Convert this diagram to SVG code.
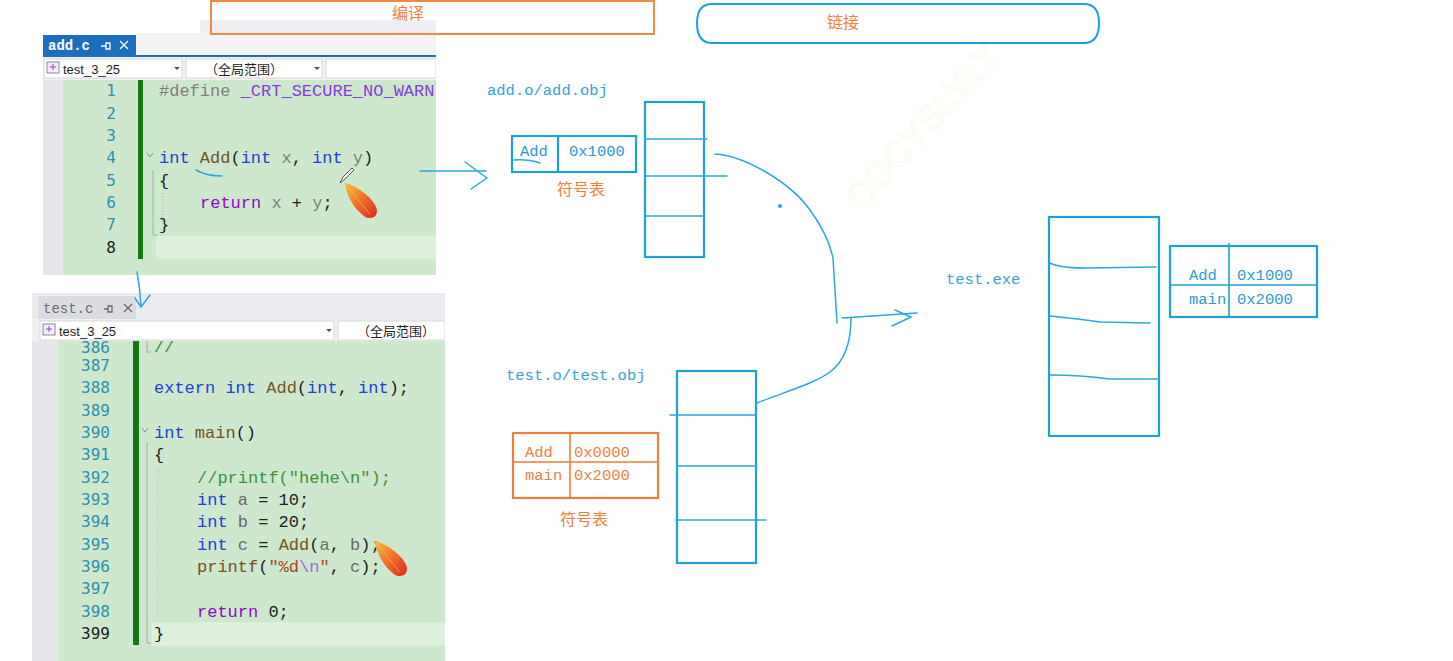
<svg xmlns="http://www.w3.org/2000/svg" width="1453" height="661" viewBox="0 0 1453 661">
<style>
.code{font-family:"Liberation Mono","DejaVu Sans Mono",monospace;font-size:17px;fill:#1e1e1e}
.ln{font-family:"DejaVu Sans Mono","Liberation Mono",monospace;font-size:16px;fill:#2b91af;text-anchor:end}
.kw{fill:#2040d8}.fn{fill:#74531f}.pa{fill:#808080}.rt{fill:#8f08c4}.mc{fill:#8a3bd8}.cm{fill:#3a943a}.st{fill:#a3461f}.esc{fill:#9a6ae0}.lv{fill:#6a6a6a}
.ui{font-family:"Liberation Sans","DejaVu Sans",sans-serif;font-size:13px;fill:#1e1e1e}
.cjk{font-family:"Noto Sans CJK SC",sans-serif}
.lbl{font-family:"Liberation Mono","DejaVu Sans Mono",monospace;font-size:15.5px;fill:#3aa0d8}
.tb{font-family:"Liberation Mono","DejaVu Sans Mono",monospace;font-size:15.5px}
.blue{fill:none;stroke:#1ea0dc;stroke-width:2.2}
.thin{fill:none;stroke:#2aa6e0;stroke-width:1.5;stroke-linecap:round;stroke-linejoin:round}
.org{fill:none;stroke:#f07d3a;stroke-width:2.2}
.cn{font-family:"Noto Sans CJK SC",sans-serif;font-size:16px;fill:#f08040}
</style>
<defs>
<clipPath id="c1"><rect x="43" y="20" width="393" height="255"/></clipPath>
<clipPath id="c2"><rect x="32" y="293" width="413" height="368"/></clipPath>
<clipPath id="c2code"><rect x="32" y="341" width="413" height="320"/></clipPath>
<linearGradient id="fg" x1="0" y1="0" x2="1" y2="1">
<stop offset="0" stop-color="#f7c23a"/><stop offset="0.45" stop-color="#f2762a"/><stop offset="1" stop-color="#e0281e"/>
</linearGradient>
<symbol id="feather" viewBox="0 0 42 46">
<path d="M2,2 C14,4 34,18 39,31 C42,41 33,46 25,41 C14,33 4,18 2,2 Z" fill="url(#fg)"/>
<path d="M2,2 L31,38" stroke="#f6b850" stroke-width="0.8" fill="none"/>
</symbol>
</defs>
<rect width="1453" height="661" fill="#ffffff"/>

<!-- watermark -->
<text x="0" y="0" transform="translate(862,212) rotate(-48)" font-family="Liberation Sans,sans-serif" font-size="36" fill="none" stroke="#f9fbea" stroke-width="1">COCYSLYLY</text>

<!-- add.c editor panel -->
<g id="panel-add" clip-path="url(#c1)">
<rect x="200" y="20" width="236" height="36" fill="#efeff3"/>
<rect x="136" y="33" width="300" height="23" fill="#f3f3f6"/>
<rect x="43" y="35" width="93" height="21" fill="#1c6fbf"/>
<text x="48" y="50" font-family="Liberation Mono,monospace" font-size="14" font-weight="bold" fill="#ffffff">add.c</text>
<g stroke="#ffffff" stroke-width="1.3" fill="none"><path d="M101,46 h5 M106,43 v6 h4 v-6 z"/><path d="M120,41 l8,8 M128,41 l-8,8"/></g>
<rect x="43" y="55" width="393" height="2" fill="#1c6fbf"/>
<rect x="43" y="57" width="393" height="23" fill="#f0f0f0"/>
<rect x="44" y="59" width="138" height="19" fill="#ffffff" stroke="#d6d6d6"/>
<rect x="186" y="59" width="136" height="19" fill="#ffffff" stroke="#d6d6d6"/>
<rect x="326" y="59" width="110" height="19" fill="#ffffff" stroke="#d6d6d6"/>
<rect x="47" y="62" width="12" height="11" fill="#f4eef8" stroke="#6a6a8a" stroke-width="0.8"/>
<path d="M50,67 h6 M53,64 v6" stroke="#a03cc0" stroke-width="1"/>
<text x="63" y="74" class="ui">test_3_25</text>
<path d="M174,67 l3,3 l3,-3 z" fill="#555"/>
<text x="205" y="74" class="ui cjk">（全局范围）</text>
<path d="M314,67 l3,3 l3,-3 z" fill="#555"/>
<rect x="43" y="80" width="20" height="195" fill="#e6e6ea"/>
<rect x="63" y="80" width="373" height="195" fill="#cde8cd"/>
<rect x="157" y="237" width="279" height="21" fill="#dcefdc" stroke="#e6f3e6"/>
<rect x="138" y="80" width="5" height="179" fill="#137a13"/>
<path d="M147,153 l3,4 l3,-4" stroke="#8a8a8a" fill="none" stroke-width="1"/>
<path d="M153,170 V235 h4" stroke="#a8a8a8" fill="none" stroke-width="1"/>
<path d="M163,193 V215" stroke="#b0b0b0" stroke-dasharray="1 2" fill="none"/>
<text class="ln" x="116" y="96">1</text>
<text class="ln" x="116" y="119">2</text>
<text class="ln" x="116" y="141">3</text>
<text class="ln" x="116" y="163">4</text>
<text class="ln" x="116" y="186">5</text>
<text class="ln" x="116" y="208">6</text>
<text class="ln" x="116" y="230">7</text>
<text class="ln" x="116" y="253" style="fill:#1e1e1e">8</text>
<text class="code" x="159" y="96" xml:space="preserve"><tspan class="pa">#define</tspan> <tspan class="mc">_CRT_SECURE_NO_WARNINGS</tspan></text>
<text class="code" x="159" y="163" xml:space="preserve"><tspan class="kw">int</tspan> <tspan class="fn">Add</tspan>(<tspan class="kw">int</tspan> <tspan class="pa">x</tspan>, <tspan class="kw">int</tspan> <tspan class="pa">y</tspan>)</text>
<text class="code" x="159" y="186">{</text>
<text class="code" x="200" y="208" xml:space="preserve"><tspan class="rt">return</tspan> <tspan class="pa">x</tspan> + <tspan class="pa">y</tspan>;</text>
<text class="code" x="159" y="230">}</text>
<g transform="translate(340,168)"><path d="M0,15 L3,9 L12,0 L14,2 L5,11 Z" fill="#ffffff" stroke="#555" stroke-width="1"/></g>
<use href="#feather" x="343" y="180" width="36" height="42"/>
</g>

<!-- test.c editor panel -->
<g id="panel-test" clip-path="url(#c2)">
<rect x="32" y="293" width="413" height="26" fill="#ebebef"/>
<rect x="38" y="296" width="98" height="23" fill="#dcdce3"/>
<text x="43" y="313" font-family="Liberation Mono,monospace" font-size="14" fill="#6a6a70">test.c</text>
<g stroke="#6a6a70" stroke-width="1.3" fill="none"><path d="M104,309 h4 M108,306 v6 h4 v-6 z"/><path d="M124,304 l8,8 M132,304 l-8,8"/></g>
<rect x="32" y="319" width="413" height="22" fill="#f0f0f0"/>
<rect x="40" y="321" width="294" height="19" fill="#ffffff" stroke="#d6d6d6"/>
<rect x="338" y="321" width="107" height="19" fill="#ffffff" stroke="#d6d6d6"/>
<rect x="43" y="324" width="12" height="11" fill="#f4eef8" stroke="#6a6a8a" stroke-width="0.8"/>
<path d="M46,329 h6 M49,326 v6" stroke="#a03cc0" stroke-width="1"/>
<text x="59" y="336" class="ui">test_3_25</text>
<path d="M326,329 l3,3 l3,-3 z" fill="#555"/>
<text x="357" y="336" class="ui cjk">（全局范围）</text>
<g clip-path="url(#c2code)">
<rect x="32" y="341" width="26" height="320" fill="#e6e6ea"/>
<rect x="58" y="341" width="387" height="320" fill="#cde8cd"/>
<rect x="152" y="623" width="293" height="22" fill="#dcefdc" stroke="#e6f3e6"/>
<rect x="133" y="341" width="6" height="304" fill="#137a13"/>
<path d="M147,336 V352 h4" stroke="#a8a8a8" fill="none" stroke-width="1"/>
<path d="M142,428 l3,4 l3,-4" stroke="#8a8a8a" fill="none" stroke-width="1"/>
<path d="M147,442 V643 h4" stroke="#a8a8a8" fill="none" stroke-width="1"/>
<path d="M158,468 V618" stroke="#b8b8b8" stroke-dasharray="1 2" fill="none"/>
<text class="ln" x="110" y="353">386</text>
<text class="ln" x="110" y="371">387</text>
<text class="ln" x="110" y="393">388</text>
<text class="ln" x="110" y="416">389</text>
<text class="ln" x="110" y="438">390</text>
<text class="ln" x="110" y="460">391</text>
<text class="ln" x="110" y="483">392</text>
<text class="ln" x="110" y="505">393</text>
<text class="ln" x="110" y="527">394</text>
<text class="ln" x="110" y="550">395</text>
<text class="ln" x="110" y="572">396</text>
<text class="ln" x="110" y="594">397</text>
<text class="ln" x="110" y="617">398</text>
<text class="ln" x="110" y="639" style="fill:#1e1e1e">399</text>
<text class="code" x="154" y="352"><tspan class="cm">//</tspan></text>
<text class="code" x="154" y="393" xml:space="preserve"><tspan class="kw">extern</tspan> <tspan class="kw">int</tspan> <tspan class="fn">Add</tspan>(<tspan class="kw">int</tspan>, <tspan class="kw">int</tspan>);</text>
<text class="code" x="154" y="438" xml:space="preserve"><tspan class="kw">int</tspan> <tspan class="fn">main</tspan>()</text>
<text class="code" x="154" y="460">{</text>
<text class="code cm" x="197" y="483" style="fill:#3a943a">//printf("hehe\n");</text>
<text class="code" x="197" y="505" xml:space="preserve"><tspan class="kw">int</tspan> <tspan class="lv">a</tspan> = 10;</text>
<text class="code" x="197" y="527" xml:space="preserve"><tspan class="kw">int</tspan> <tspan class="lv">b</tspan> = 20;</text>
<text class="code" x="197" y="550" xml:space="preserve"><tspan class="kw">int</tspan> <tspan class="lv">c</tspan> = <tspan class="fn">Add</tspan>(<tspan class="lv">a</tspan>, <tspan class="lv">b</tspan>);</text>
<text class="code" x="197" y="572" xml:space="preserve"><tspan class="fn">printf</tspan>(<tspan class="st">"%d</tspan><tspan class="esc">\n</tspan><tspan class="st">"</tspan>, <tspan class="lv">c</tspan>);</text>
<text class="code" x="197" y="617" xml:space="preserve"><tspan class="rt">return</tspan> 0;</text>
<text class="code" x="154" y="639">}</text>
<use href="#feather" x="373" y="538" width="36" height="42"/>
</g>
</g>

<!-- stage boxes -->
<g id="box-compile">
<rect x="211" y="1" width="443" height="33" fill="none" stroke="#f08a40" stroke-width="2"/>
<text x="408" y="19" class="cn" text-anchor="middle">编译</text>
</g>
<g id="box-link">
<path d="M712,4 H1084 Q1099,4 1099,23 Q1099,43 1084,43 H712 Q697,43 697,23 Q697,4 712,4 Z" fill="none" stroke="#1ea0dc" stroke-width="2"/>
<text x="843" y="28" class="cn" text-anchor="middle">链接</text>
</g>

<!-- add.o -->
<g id="add-obj">
<text x="487" y="95" class="lbl">add.o/add.obj</text>
<rect x="645" y="102" width="59" height="155" class="blue"/>
<path d="M645,139 H707 M646,176 H727 M645,216 H704" class="thin" stroke-width="1.6"/>
</g>
<g id="add-symtab">
<rect x="512" y="136" width="124" height="36" class="blue"/>
<path d="M558,136 V172" class="blue"/>
<text x="520" y="156" class="tb" fill="#2a9ad6">Add</text>
<text x="569" y="156" class="tb" fill="#2a9ad6">0x1000</text>
<path d="M514,160 Q528,159 540,163" class="thin"/>
<text x="581" y="195" class="cn" font-size="17" text-anchor="middle">符号表</text>
</g>

<!-- test.o -->
<g id="test-obj">
<text x="506" y="380" class="lbl">test.o/test.obj</text>
<rect x="677" y="371" width="79" height="192" class="blue"/>
<path d="M670,415 H756 M677,466 H756 M676,520 H766" class="thin" stroke-width="1.6"/>
</g>
<g id="test-symtab">
<rect x="513" y="433" width="145" height="65" class="org"/>
<path d="M570,433 V497 M513,462 H658" stroke="#f07d3a" stroke-width="1.6" fill="none"/>
<text x="525" y="457" class="tb" fill="#f08040">Add</text>
<text x="574" y="457" class="tb" fill="#f08040">0x0000</text>
<text x="525" y="480" class="tb" fill="#f08040">main</text>
<text x="574" y="480" class="tb" fill="#f08040">0x2000</text>
<text x="584" y="525" class="cn" font-size="17" text-anchor="middle">符号表</text>
</g>

<!-- test.exe -->
<g id="exe">
<text x="946" y="284" class="lbl">test.exe</text>
<rect x="1049" y="217" width="110" height="219" class="blue"/>
<path d="M1050,263 Q1060,268 1085,268 L1156,267" class="thin"/>
<path d="M1050,316 Q1080,319 1100,322 L1150,323" class="thin"/>
<path d="M1050,375 Q1080,375 1110,379 L1159,379" class="thin"/>
</g>
<g id="exe-symtab">
<rect x="1170" y="246" width="147" height="71" class="blue"/>
<path d="M1229,243 V317 M1170,285 H1316" stroke="#1ea0dc" stroke-width="1.6" fill="none"/>
<text x="1189" y="280" class="tb" fill="#2a9ad6">Add</text>
<text x="1237" y="280" class="tb" fill="#2a9ad6">0x1000</text>
<text x="1189" y="304" class="tb" fill="#2a9ad6">main</text>
<text x="1237" y="304" class="tb" fill="#2a9ad6">0x2000</text>
</g>

<!-- connectors -->
<g id="connectors" class="thin">
<path d="M196,170 Q206,176 222,176"/>
<path d="M137,272 Q140,288 141,306"/>
<path d="M135,298 L141,307 L150,295"/>
<path d="M420,171 H486"/>
<path d="M465,162 L487,178 L471,189"/>
<path d="M715,154 C745,156 790,182 810,210 C826,232 831,248 833,258 L837,323"/>
<circle cx="780" cy="206" r="1.2" fill="#2aa6e0"/>
<path d="M757,403 C790,390 815,383 830,372 C846,360 851,340 851,318"/>
<path d="M842,318 L917,313"/>
<path d="M895,310 L911,317 L892,326"/>
</g>
</svg>
